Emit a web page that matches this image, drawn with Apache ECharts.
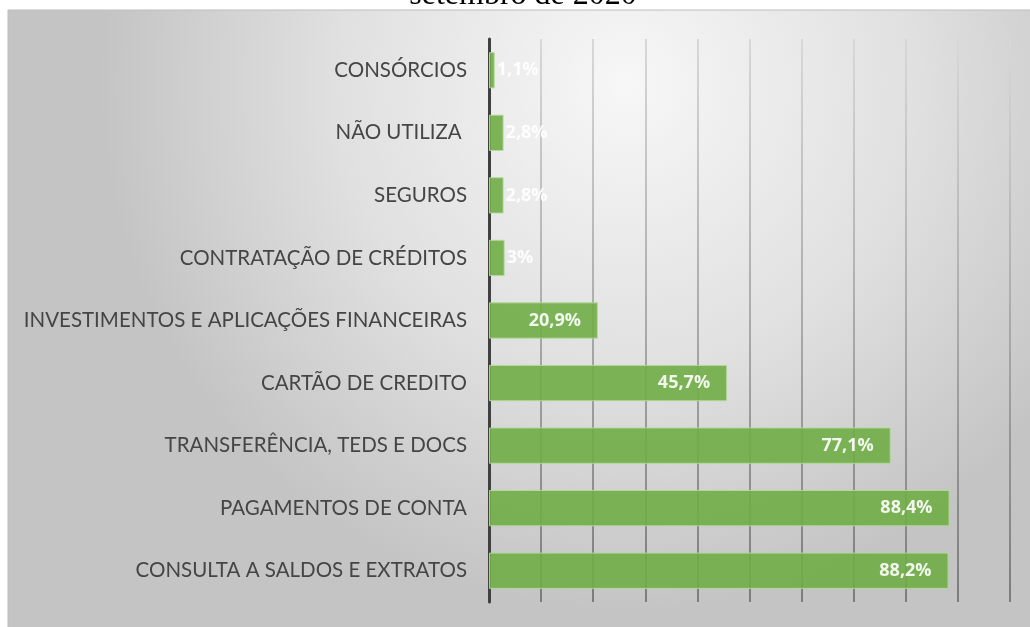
<!DOCTYPE html>
<html>
<head>
<meta charset="utf-8">
<script src="https://cdn.jsdelivr.net/npm/echarts@6/dist/echarts.min.js"></script>
<style>
  html, body { margin: 0; padding: 0; background: #ffffff; }
  #chart { width: 1030px; height: 627px; }
</style>
</head>
<body>
<div id="chart"></div>
<script>
// categorias de cima para baixo
const categories = [
  'CONSÓRCIOS',
  'NÃO UTILIZA ',
  'SEGUROS',
  'CONTRATAÇÃO DE CRÉDITOS',
  'INVESTIMENTOS E APLICAÇÕES FINANCEIRAS',
  'CARTÃO DE CREDITO',
  'TRANSFERÊNCIA, TEDS E DOCS',
  'PAGAMENTOS DE CONTA',
  'CONSULTA A SALDOS E EXTRATOS'
]
const values = [1.1, 2.8, 2.8, 3, 20.9, 45.7, 77.1, 88.4, 88.2]
const xTicks = [0, 10, 20, 30, 40, 50, 60, 70, 80, 90, 100]

const chartInstance = echarts.init(document.getElementById('chart'))

// rótulos que não cabem na barra ficam do lado de fora
const barData = values.map(v => {
  if (v < 10) {
    return { value: v, label: { position: 'right', distance: 2 } }
  }
  return { value: v }
})

const option = {
  animation: false,
  graphic: [
    {
      type: 'rect',
      shape: { x: 8, y: 10, width: 1030, height: 620 },
      style: {
        fill: new echarts.graphic.RadialGradient(0.6, 0.12, 0.85, [
          { offset: 0, color: '#f7f7f7' },
          { offset: 0.55, color: '#e0e0e0' },
          { offset: 1, color: '#c4c4c4' }
        ]),
        stroke: '#bdbdbd',
        lineWidth: 1
      },
      z: -10
    },
    {
      type: 'text',
      x: 523,
      y: 12,
      style: {
        text: 'setembro de 2020',
        fontSize: 32,
        fontFamily: '"Liberation Serif", "DejaVu Serif", serif',
        fill: '#000000',
        align: 'center',
        verticalAlign: 'bottom'
      },
      z: 10
    }
  ],
  grid: {
    left: 489,
    right: 20,
    top: 39,
    bottom: 25,
    containLabel: false
  },
  xAxis: {
    type: 'value',
    min: xTicks[0],
    max: xTicks[xTicks.length - 1],
    interval: 10,
    axisLine: { show: false },
    axisTick: { show: false },
    axisLabel: { show: false },
    splitLine: {
      show: true,
      lineStyle: {
        width: 2,
        color: new echarts.graphic.LinearGradient(0, 39, 0, 602, [
          { offset: 0, color: '#d8d8d8' },
          { offset: 1, color: '#7c7c7c' }
        ], true)
      }
    }
  },
  yAxis: {
    type: 'category',
    inverse: true,
    data: categories,
    axisLine: { show: true, lineStyle: { color: '#404040', width: 3 } },
    axisTick: { show: false },
    axisLabel: {
      color: '#454545',
      fontSize: 20.5,
      fontFamily: 'Lato, sans-serif',
      margin: 22
    }
  },
  series: [{
    type: 'bar',
    data: barData,
    barCategoryGap: '42%',
    itemStyle: {
      color: '#70ad47',
      opacity: 0.9,
      borderColor: '#b5d99c',
      borderWidth: 1
    },
    label: {
      show: true,
      position: 'insideRight',
      distance: 17,
      color: '#ffffff',
      fontSize: 18,
      fontWeight: 'bold',
      fontFamily: '"Open Sans", Lato, sans-serif',
      formatter: (p) => String(p.value).replace('.', ',') + '%'
    }
  }]
}

chartInstance.setOption(option)
</script>
</body>
</html>
